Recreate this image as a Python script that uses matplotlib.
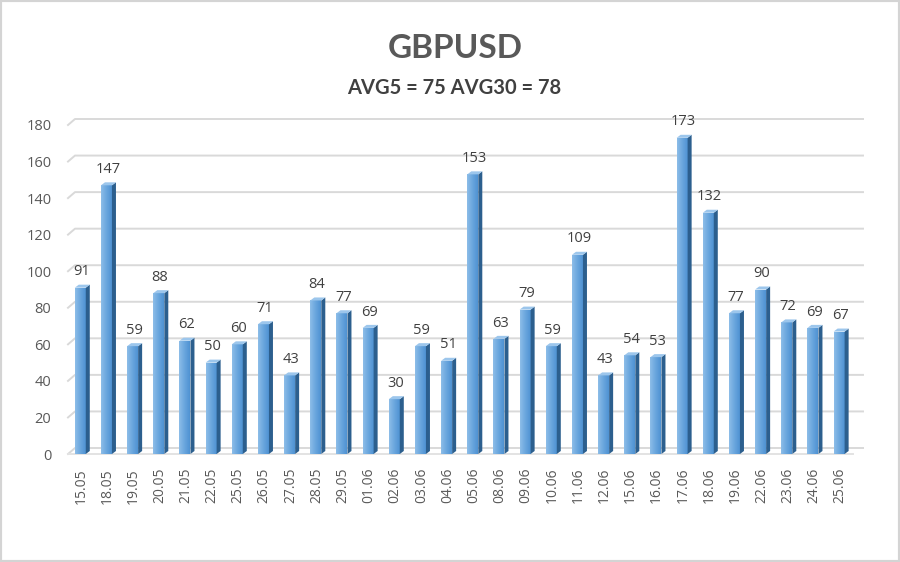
import numpy as np
import matplotlib
matplotlib.use("Agg")
import matplotlib.pyplot as plt
from matplotlib.lines import Line2D
from matplotlib.patches import Rectangle, Polygon
from matplotlib.colors import LinearSegmentedColormap
from matplotlib.transforms import IdentityTransform

dates = ["15.05", "18.05", "19.05", "20.05", "21.05", "22.05", "25.05", "26.05", "27.05", "28.05",
         "29.05", "01.06", "02.06", "03.06", "04.06", "05.06", "08.06", "09.06", "10.06", "11.06",
         "12.06", "15.06", "16.06", "17.06", "18.06", "19.06", "22.06", "23.06", "24.06", "25.06"]
values = [91, 147, 59, 88, 62, 50, 60, 71, 43, 84,
          77, 69, 30, 59, 51, 153, 63, 79, 59, 109,
          43, 54, 53, 173, 132, 77, 90, 72, 69, 67]
yticks = [0, 20, 40, 60, 80, 100, 120, 140, 160, 180]
title = "GBPUSD"
subtitle = "AVG5 = 75 AVG30 = 78"

W, H, DPI = 900, 562, 100
fig = plt.figure(figsize=(W / DPI, H / DPI), dpi=DPI)
fig.patch.set_facecolor("white")

# axes frame = front floor of the pseudo-3D chart
L, R, B, T = 68, 853, 454, 125
ax = fig.add_axes([L / W, (H - B) / H, (R - L) / W, (B - T) / H])
ax.set_xlim(-0.5, len(values) - 0.5)
ax.set_ylim(0, 180)
for s in ax.spines.values():
    s.set_visible(False)
ax.set_facecolor("none")

DX, DY = 7, 6  # depth offset in pixels

def to_px(x, y):
    return ax.transData.transform((x, y))

grid_c = "#d9d9d9"
for v in yticks:
    x0, y0 = to_px(-0.5, v)
    x1, y1 = to_px(len(values) - 0.5, v)
    fig.add_artist(Line2D([x0, x0 + DX, x1 + DX + 3], [y0, y0 + DY, y1 + DY],
                          transform=IdentityTransform(), color=grid_c, lw=1.4, zorder=0))
# front floor edge
x0, y0 = to_px(-0.5, 0)
x1, y1 = to_px(len(values) - 0.5, 0)
fig.add_artist(Line2D([x0, x1], [y0, y1], transform=IdentityTransform(), color="#e3e3e3", lw=1.4, zorder=0))

ax.set_yticks(yticks)
ax.set_yticklabels([str(t) for t in yticks])
ax.set_xticks(range(len(dates)))
ax.set_xticklabels(dates, rotation=90)
ax.tick_params(axis="y", length=0, pad=12, labelsize=10.5, labelcolor="#595959")
ax.tick_params(axis="x", length=0, pad=10, labelsize=10, labelcolor="#595959")
for lab in ax.get_xticklabels() + ax.get_yticklabels():
    lab.set_fontfamily("Open Sans")

cmap = LinearSegmentedColormap.from_list("bar", ["#8dbde8", "#6aa6de", "#4f92d2"])
grad = np.linspace(0, 1, 64).reshape(1, -1)
bw = 0.42
xs = np.arange(len(values)) - 0.03
bars = ax.bar(xs, values, width=bw, color="#5b9bd5", edgecolor="none", zorder=2)
fig.canvas.draw()
for b, v, x in zip(bars, values, xs):
    lx, by = to_px(x - bw / 2, 0)
    rx, ty = to_px(x + bw / 2, v)
    side = Polygon([[rx, by], [rx + 4, by + 3], [rx + 4, ty + 3], [rx, ty]], closed=True,
                   transform=IdentityTransform(), facecolor="#2c5f8e", edgecolor="none", zorder=1)
    top = Polygon([[lx, ty], [lx + 4, ty + 3], [rx + 4, ty + 3], [rx, ty]], closed=True,
                  transform=IdentityTransform(), facecolor="#9cc6ec", edgecolor="none", zorder=1)
    fig.add_artist(side)
    fig.add_artist(top)
    im = ax.imshow(grad, extent=[x - bw / 2, x + bw / 2, 0, v], aspect="auto", cmap=cmap, zorder=3)
    im.set_clip_path(b)
    ax.annotate(str(v), (x + 0.05, v), xytext=(0, 6), textcoords="offset points",
                ha="center", va="bottom", fontsize=10.5, color="#404040",
                fontfamily="Open Sans", annotation_clip=False)
ax.set_xlim(-0.5, len(values) - 0.5)
ax.set_ylim(0, 180)

fig.text(455 / W, 1 - 49 / H, title, ha="center", va="center", fontsize=24, fontweight="bold",
         color="#595959", fontfamily="Lato")
fig.text(454 / W, 1 - 88 / H, subtitle, ha="center", va="center", fontsize=14.5, fontweight="bold",
         color="#404040", fontfamily="Lato")

fig.add_artist(Rectangle((0, 0), 1, 1, transform=fig.transFigure, fill=False,
                         edgecolor="#d4d4d4", lw=3, zorder=10))

fig.savefig("out.png", dpi=DPI, facecolor="white")
